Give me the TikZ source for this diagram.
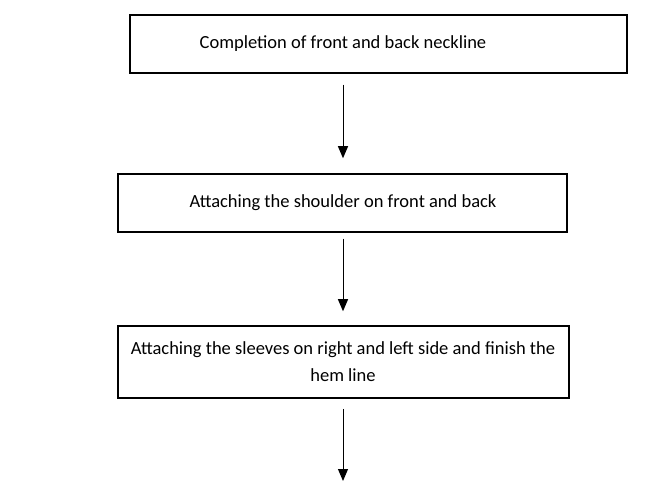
\documentclass[tikz,border=0pt]{standalone}
\usepackage{fontspec}
\setmainfont{Carlito}
\usetikzlibrary{arrows.meta,calc}

\tikzset{
  stepbox/.style={draw, line width=1.5pt, inner sep=0pt},
  steptext/.style={font=\fontsize{18.5}{27}\selectfont, align=center, inner sep=0pt},
  flow/.style={-{Triangle[width=10pt,length=12pt]}, line width=1pt}
}

\begin{document}
\begin{tikzpicture}[x=1pt, y=-1pt]
  \useasboundingbox (0,0) rectangle (651,481);

  \node[stepbox, minimum width=497pt, minimum height=58pt] (box1) at (378.5,44)  {};
  \node[stepbox, minimum width=449pt, minimum height=58pt] (box2) at (342.5,203) {};
  \node[stepbox, minimum width=451pt, minimum height=72pt] (box3) at (343.5,362) {};

  \node[steptext] (txt1) at (343,44)  {Completion of front and back neckline};
  \node[steptext] (txt2) at (343,203) {Attaching the shoulder on front and back};
  \node[steptext] (txt3) at (343,362) {Attaching the sleeves on right and left side and finish the\\hem line};

  \coordinate (end) at (343,481);

  \draw[flow, shorten <=11pt, shorten >=15pt] (box1.south -| txt1.center) -- (box2.north -| txt2.center);
  \draw[flow, shorten <=6pt,  shorten >=14pt] (box2.south -| txt2.center) -- (box3.north -| txt3.center);
  \draw[flow, shorten <=10pt] (box3.south -| txt3.center) -- (end);
\end{tikzpicture}
\end{document}
